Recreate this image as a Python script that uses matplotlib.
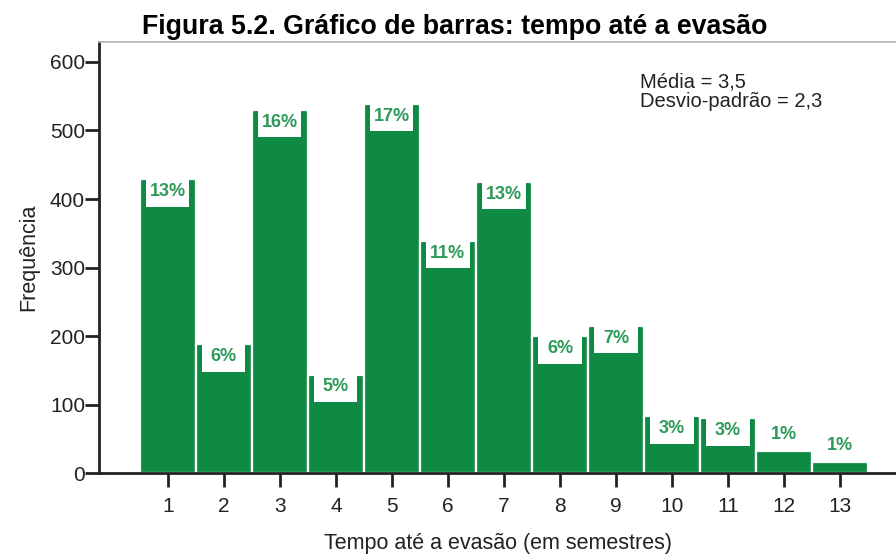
import matplotlib.pyplot as plt

plt.rcParams["font.family"] = ["Liberation Sans", "DejaVu Sans"]

semestres = list(range(1, 14))
frequencia = [429, 188, 530, 144, 539, 339, 425, 200, 215, 83, 80, 32, 16]
percentuais = ["13%", "6%", "16%", "5%", "17%", "11%", "13%", "6%", "7%", "3%", "3%", "1%", "1%"]

BAR_GREEN = "#0f8a45"
TEXT_GREEN = "#2c9a58"

fig = plt.figure(figsize=(8.96, 5.56), dpi=100, facecolor="white")
ax = fig.add_axes([0.1105, 0.1487, 0.8895, 0.7758])

ax.bar(semestres, frequencia, width=1.0, color=BAR_GREEN, edgecolor="white", linewidth=1.6, zorder=2)

box_h = 40
for x, h, lab in zip(semestres, frequencia, percentuais):
    if h > 60:
        # white label box cut into the top of the bar
        ax.bar(x, box_h, bottom=h - box_h, width=0.77, color="white", linewidth=0, zorder=3)
        ax.text(x, h - box_h / 2 + 2, lab, ha="center", va="center", fontsize=13,
                fontweight="bold", color=TEXT_GREEN, zorder=4)
    else:
        ax.text(x, h + 25, lab, ha="center", va="center", fontsize=13,
                fontweight="bold", color=TEXT_GREEN, zorder=4)

ax.set_xlim(-0.23, 14.0)
ax.set_ylim(0, 629)
ax.set_xticks(semestres)
ax.set_xticklabels([str(s) for s in semestres])
ax.set_yticks([0, 100, 200, 300, 400, 500, 600])

ax.spines["right"].set_visible(False)
ax.spines["top"].set_color("#b0b0b0")
ax.spines["top"].set_linewidth(1.2)
ax.spines["left"].set_color("#222222")
ax.spines["left"].set_linewidth(2)
ax.spines["bottom"].set_color("#222222")
ax.spines["bottom"].set_linewidth(2)

ax.tick_params(axis="y", length=10, width=2, color="#222222", labelsize=15, pad=0, labelcolor="#222222")
ax.tick_params(axis="x", length=10, width=2, color="#222222", labelsize=15, pad=7, labelcolor="#222222")

ax.set_xlabel("Tempo até a evasão (em semestres)", fontsize=15.5, color="#222222", labelpad=12)
ax.set_ylabel("Frequência", fontsize=15.5, color="#222222", labelpad=8)

ax.text(0.679, 0.93, "Média = 3,5\nDesvio-padrão = 2,3", transform=ax.transAxes,
        ha="left", va="top", fontsize=14.5, color="#222222", linespacing=1.05)

fig.text(0.508, 0.951, "Figura 5.2. Gráfico de barras: tempo até a evasão", ha="center", va="center",
         fontsize=19.3, fontweight="bold", color="black")

fig.savefig("out.png", dpi=100, facecolor="white")
